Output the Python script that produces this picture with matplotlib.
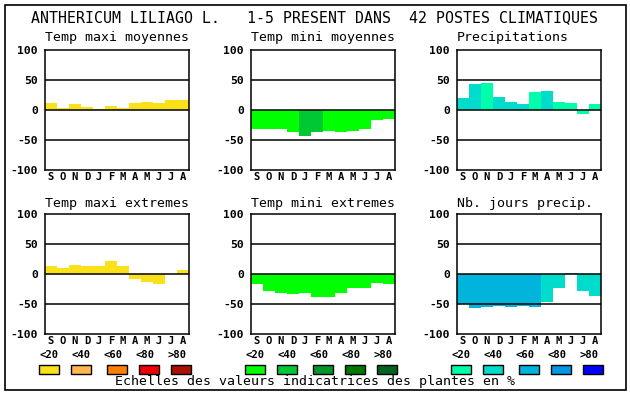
import matplotlib
matplotlib.use("Agg")
import matplotlib.pyplot as plt
from matplotlib.patches import Rectangle

W, H = 630, 394

months = ["S", "O", "N", "D", "J", "F", "M", "A", "M", "J", "J", "A"]
scale_labels = ["<20", "<40", "<60", "<80", ">80"]

titles = ["Temp maxi moyennes", "Temp mini moyennes", "Precipitations",
          "Temp maxi extremes", "Temp mini extremes", "Nb. jours precip."]

tmax_moy = [12, 4, 10, 5, 2, 7, 4, 12, 14, 12, 17, 17]
tmin_moy = [-31, -32, -31, -37, -44, -37, -35, -36, -35, -32, -17, -15]
precip = [20, 44, 45, 22, 14, 10, 30, 32, 14, 12, -6, 10]
tmax_ext = [14, 10, 15, 14, 14, 22, 14, -8, -14, -16, 0, 7]
tmin_ext = [-16, -28, -31, -34, -31, -38, -38, -31, -23, -23, -15, -16]
jours = [-50, -57, -55, -54, -55, -54, -55, -46, -23, 2, -28, -37]

# class of each bar (index into the colour scale)
cls_tmax_moy = [0] * 12
cls_tmin_moy = [0, 0, 0, 0, 1, 1, 0, 0, 0, 0, 0, 0]
cls_precip = [1, 1, 0, 1, 1, 1, 0, 1, 0, 0, 0, 0]
cls_tmax_ext = [0] * 12
cls_tmin_ext = [0] * 12
cls_jours = [2] * 7 + [1] * 5

warm = ["#fae119", "#ffb84d", "#ff7f00", "#ee0000", "#aa1100"]
green = ["#00ff00", "#00c832", "#009628", "#007800", "#006420"]
blue = ["#00ffaa", "#00dccc", "#00b4dc", "#0096e6", "#0000ff"]

series = [tmax_moy, tmin_moy, precip, tmax_ext, tmin_ext, jours]
classes = [cls_tmax_moy, cls_tmin_moy, cls_precip, cls_tmax_ext, cls_tmin_ext, cls_jours]
palettes = [warm, green, blue, warm, green, blue]

mono = "DejaVu Sans Mono"


def fx(x):
    return x / W


def fy(y):
    return 1 - y / H


fig = plt.figure(figsize=(W / 100, H / 100), dpi=100)
fig.patch.set_facecolor("white")

fig.patches.append(Rectangle((fx(4.5), fy(390)), fx(626) - fx(4.5), fy(4.5) - fy(390),
                             transform=fig.transFigure, fill=False, ec="black", lw=1.2))

fig.text(fx(31), fy(18), "ANTHERICUM LILIAGO L.   1-5 PRESENT DANS  42 POSTES CLIMATIQUES",
         family=mono, fontsize=10.75, ha="left", va="center", color="black")

for i in range(6):
    row, col = divmod(i, 3)
    left = 45 + 206 * col
    bottom = 170 if row == 0 else 334
    ax = fig.add_axes([fx(left), fy(bottom), 144 / W, 120 / H])
    cols = [palettes[i][c] for c in classes[i]]
    ax.bar(range(12), series[i], width=1.0, color=cols, linewidth=0, zorder=1)
    for yv in (50, 0, -50):
        ax.axhline(yv, color="black", lw=1.1, zorder=2)
    ax.set_xlim(-0.5, 11.5)
    ax.set_ylim(-100, 100)
    ax.set_yticks([100, 50, 0, -50, -100])
    ax.set_yticklabels(["100", "50", "0", "-50", "-100"], family=mono,
                       fontweight="bold", fontsize=8.2)
    ax.set_xticks(range(12))
    ax.set_xticklabels(months, family=mono, fontweight="bold", fontsize=7.6)
    ax.tick_params(length=0, pad=1.5, axis="x")
    ax.tick_params(length=0, pad=5, axis="y")
    for s in ax.spines.values():
        s.set_linewidth(1.1)
    title_y = 38 if row == 0 else 203
    fig.text(fx(left), fy(title_y), titles[i], family=mono, fontsize=9.5,
             ha="left", va="center")

    if row == 1:
        for k in range(5):
            fig.text(fx(left + 4 + 32 * k), fy(354.5), scale_labels[k], family=mono,
                     fontweight="bold", fontsize=7.6, ha="center", va="center")
        box_x = [-6, 26, 62, 94, 126]
        for k in range(5):
            fig.patches.append(Rectangle((fx(left + box_x[k]), fy(374)), 20 / W, 9.5 / H,
                                         transform=fig.transFigure, fc=palettes[i][k],
                                         ec="black", lw=1))

fig.text(fx(315), fy(382), "Echelles des valeurs indicatrices des plantes en %",
         family=mono, fontsize=9.5, ha="center", va="center")

fig.savefig("out.png", dpi=100, facecolor="white")
